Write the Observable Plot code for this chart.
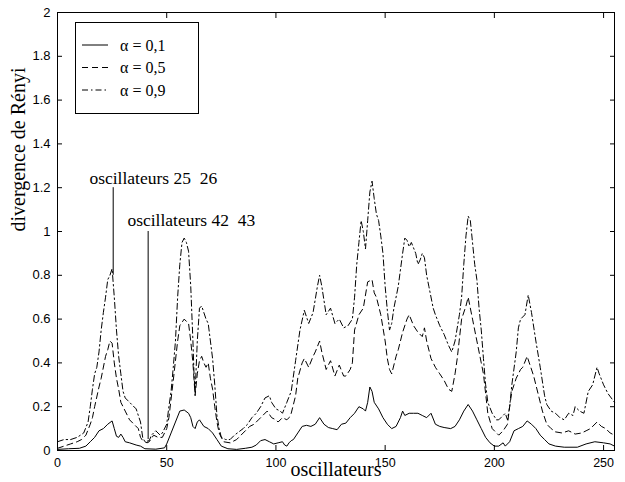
<!DOCTYPE html>
<html><head><meta charset="utf-8">
<script src="https://cdn.jsdelivr.net/npm/d3@7"></script>
<script src="https://cdn.jsdelivr.net/npm/@observablehq/plot@0.6"></script>
<style>
body{margin:0;background:#fff;}
#wrap{position:relative;width:625px;height:482px;}
#legend{position:absolute;left:75px;top:22px;}
</style></head><body><div id="wrap"></div>
<script>
// ---- data ----
const seriesNames = ["α = 0,1", "α = 0,5", "α = 0,9"];
const dashes = [null, "6,4", "6,3,1.5,3"];

const osc01 = [0,5,10,13,15,17,19,21,23,25,26,27,28,29,30,31,33,36,38,40,45,49,50,52,54,56,58,60,61,62,63,64,65,67,69,71,73,75,78,82,86,89,91,93,95,97,99,101,103,104,105,106,107,108,110,112,114,116,118,120,122,124,126,128,130,132,134,136,138,140,141,142,143,144,145,147,149,151,153,155,157,158,159,161,163,165,167,169,171,173,175,177,180,182,184,186,188,190,192,194,196,198,200,202,204,205,207,209,211,213,215,217,219,221,223,225,228,232,238,242,246,250,253,255];
const val01 = [0.005,0.008,0.01,0.02,0.04,0.06,0.09,0.1,0.12,0.135,0.1,0.065,0.06,0.075,0.06,0.04,0.035,0.025,0.02,0.008,0.006,0.012,0.03,0.08,0.13,0.18,0.185,0.17,0.15,0.11,0.1,0.13,0.14,0.11,0.1,0.08,0.05,0.02,0.008,0.005,0.01,0.015,0.025,0.045,0.05,0.04,0.03,0.035,0.04,0.025,0.02,0.035,0.045,0.05,0.08,0.11,0.115,0.11,0.12,0.15,0.12,0.105,0.1,0.095,0.12,0.125,0.15,0.17,0.2,0.19,0.18,0.22,0.29,0.27,0.22,0.19,0.15,0.12,0.1,0.11,0.15,0.18,0.16,0.17,0.17,0.17,0.16,0.15,0.17,0.12,0.11,0.105,0.1,0.11,0.14,0.18,0.21,0.18,0.14,0.1,0.06,0.035,0.02,0.02,0.035,0.02,0.04,0.09,0.1,0.11,0.135,0.12,0.1,0.07,0.05,0.03,0.02,0.015,0.015,0.03,0.04,0.035,0.03,0.02];

const osc05 = [0,3,6,9,11,13,15,16,17,19,20,22,23,24,25,26,27,28,29,31,33,35,37,38,39,41,42,44,46,48,50,51,53,55,56,58,60,61,62,63,64,65,66,67,68,69,70,71,72,73,74,76,79,82,84,86,88,90,92,94,96,98,100,101,103,105,106,107,109,110,112,113,115,117,118,120,121,123,125,127,129,131,132,134,135,136,138,140,142,144,145,146,148,149,150,151,152,153,155,156,158,160,161,163,165,167,168,169,171,173,175,177,179,180.5,182,183,185,187,188,190,192,194,195,197,199,201,202,204,206,207,208,210,212,213,215,216,218,220,222,224,226,228,231,234,237,240,242,244,247,249,251,253,255];
const val05 = [0.01,0.02,0.03,0.04,0.05,0.07,0.12,0.15,0.2,0.29,0.33,0.43,0.46,0.5,0.49,0.4,0.33,0.28,0.22,0.18,0.14,0.12,0.1,0.06,0.045,0.035,0.04,0.07,0.06,0.06,0.1,0.15,0.32,0.5,0.57,0.6,0.58,0.5,0.4,0.25,0.35,0.41,0.43,0.4,0.38,0.4,0.33,0.28,0.2,0.13,0.08,0.04,0.035,0.05,0.07,0.09,0.11,0.12,0.14,0.16,0.18,0.15,0.14,0.13,0.15,0.14,0.15,0.17,0.25,0.33,0.4,0.42,0.38,0.43,0.45,0.5,0.45,0.37,0.41,0.34,0.39,0.34,0.34,0.37,0.4,0.55,0.62,0.65,0.77,0.78,0.72,0.7,0.62,0.56,0.5,0.42,0.37,0.35,0.43,0.46,0.54,0.6,0.62,0.57,0.54,0.52,0.56,0.5,0.42,0.38,0.35,0.32,0.28,0.27,0.35,0.42,0.6,0.66,0.7,0.6,0.5,0.4,0.35,0.17,0.1,0.08,0.07,0.09,0.12,0.2,0.27,0.33,0.37,0.38,0.43,0.4,0.34,0.26,0.18,0.12,0.1,0.085,0.08,0.09,0.075,0.08,0.09,0.1,0.13,0.11,0.1,0.08,0.07];

const osc09 = [0,3,6,9,12,14,15,16,17,18,19,20,21,22,23,24,25,26,27,28,29,30,31,32,34,36,37,38,39,40,42,43,45,47,48,50,51,52,53,54,55,56,57,58,59,60,61,62,62.5,63,64,65,66,67,68,69,70,71,72,73,74,75,77,79,81,83,85,87,89,91,93,95,97,98,100,102,103,105,107,109,111,113,115,117,119,120,121,123,125,127,129,131,133,135,136,137,138,139,140,141,142,143,144,145,146,147,148,149,150,151,152,153,154,156,158,159,160,161,162,164,165,166,167,168,169,170,172,173,175,177,179,180.5,182,184,185,186,187,188,189,190,191,192,193,194,195,196,197,199,201,202,203,205,206,207,208,210,211,212,214,215.5,217,219,221,223,224,226,228,230,232,234,236,237,239,241,243,245,247,248,250,252,255];
const val09 = [0.04,0.05,0.05,0.06,0.08,0.13,0.2,0.28,0.35,0.38,0.45,0.55,0.63,0.7,0.78,0.8,0.83,0.7,0.55,0.43,0.35,0.27,0.24,0.23,0.21,0.19,0.16,0.13,0.06,0.04,0.045,0.07,0.09,0.07,0.08,0.12,0.2,0.27,0.38,0.5,0.7,0.85,0.95,0.97,0.95,0.91,0.75,0.5,0.35,0.26,0.5,0.65,0.66,0.63,0.6,0.58,0.5,0.42,0.3,0.16,0.1,0.06,0.05,0.05,0.07,0.085,0.1,0.12,0.15,0.17,0.2,0.24,0.25,0.22,0.19,0.18,0.17,0.22,0.27,0.41,0.55,0.64,0.58,0.63,0.75,0.8,0.75,0.62,0.65,0.58,0.6,0.56,0.57,0.6,0.7,0.85,0.95,1.05,1.0,0.92,1.05,1.18,1.23,1.15,1.08,1.05,0.98,0.9,0.75,0.64,0.55,0.58,0.65,0.75,0.9,0.97,0.96,0.93,0.95,0.9,0.85,0.87,0.9,0.88,0.8,0.75,0.65,0.62,0.57,0.53,0.48,0.45,0.5,0.62,0.7,0.85,0.98,1.07,1.05,0.95,0.85,0.78,0.65,0.55,0.42,0.3,0.22,0.17,0.14,0.14,0.15,0.17,0.14,0.2,0.3,0.45,0.56,0.6,0.62,0.71,0.63,0.5,0.38,0.25,0.21,0.18,0.17,0.15,0.14,0.17,0.16,0.2,0.18,0.17,0.27,0.3,0.38,0.35,0.3,0.26,0.22];

const xTicks = [0, 50, 100, 150, 200, 250];
const yTicks = [0, 0.2, 0.4, 0.6, 0.8, 1, 1.2, 1.4, 1.6, 1.8, 2];

const annText = ["oscillateurs 25\u00a0 26", "oscillateurs 42\u00a0 43"];
const annTextX = [14.6, 32];
const annTextY = [1.219, 1.027];
const annLineX = [25.5, 41.5];
const annLineTop = [1.2, 1.0];
const annLineBottom = [0.8, 0.05];

// ---- build tidy rows ----
const series = [[osc01, val01], [osc05, val05], [osc09, val09]];
const rows = series.flatMap(([xs, vs], i) => xs.map((x, j) => ({x, y: vs[j], s: seriesNames[i]})));
const ann = annText.map((t, i) => ({t, x: annTextX[i], y: annTextY[i]}));
const annLines = annLineX.map((x, i) => ({x, y1: annLineTop[i], y2: annLineBottom[i]}));

const serif = "'Liberation Serif', 'Times New Roman', serif";

const chart = Plot.plot({
  width: 625, height: 482,
  marginLeft: 57, marginRight: 11, marginTop: 12, marginBottom: 32,
  x: {domain: [0, 255]},
  y: {domain: [0, 2]},
  style: {fontFamily: "'Liberation Sans', Arial, sans-serif", fontSize: "12.5px", color: "#000", background: "#fff", overflow: "visible"},
  marks: [
    Plot.frame({stroke: "#000", strokeWidth: 1}),
    Plot.axisX(xTicks, {anchor: "bottom", tickSize: -5, tickPadding: 13, label: null, tickFormat: d => String(d)}),
    Plot.axisX(xTicks, {anchor: "top", tickSize: -5, label: null, tickFormat: () => ""}),
    Plot.axisY(yTicks, {anchor: "left", tickSize: -5, tickPadding: 12, label: null, fontSize: 13, tickFormat: d => String(d)}),
    Plot.axisY(yTicks, {anchor: "right", tickSize: -5, label: null, tickFormat: () => ""}),
    ...seriesNames.map((name, i) => Plot.line(rows.filter(r => r.s === name), {
      x: "x", y: "y", stroke: "#000", strokeWidth: 1, strokeDasharray: dashes[i], curve: "linear"
    })),
    Plot.ruleX(annLines, {x: "x", y1: "y1", y2: "y2", stroke: "#000", strokeWidth: 1}),
    Plot.text(ann, {x: "x", y: "y", text: "t", textAnchor: "start", lineAnchor: "bottom", fontSize: 17.5, fontFamily: serif, fill: "#000"}),
    Plot.text(["oscillateurs"], {frameAnchor: "bottom", dy: 25, fontSize: 20, fontFamily: serif, fill: "#000"}),
    Plot.text(["divergence de Rényi"], {frameAnchor: "left", dx: -39, rotate: -90, fontSize: 20, fontFamily: serif, fill: "#000"})
  ]
});

const wrap = document.getElementById("wrap");
wrap.appendChild(chart);

// ---- legend box inside the plot area ----
const lw = 124, lh = 92;
const leg = d3.select(wrap).append("svg").attr("id", "legend").attr("width", lw).attr("height", lh);
leg.append("rect").attr("x", 0.5).attr("y", 0.5).attr("width", lw - 1).attr("height", lh - 1)
  .attr("fill", "#fff").attr("stroke", "#000");
seriesNames.forEach((name, i) => {
  const cy = 23 + i * 22.5;
  leg.append("line").attr("x1", 7).attr("x2", 33).attr("y1", cy).attr("y2", cy)
    .attr("stroke", "#000").attr("stroke-width", 1).attr("stroke-dasharray", dashes[i]);
  leg.append("text").attr("x", 45).attr("y", cy).attr("dy", "0.35em")
    .attr("font-family", serif).attr("font-size", 16).text(name);
});
</script></body></html>
